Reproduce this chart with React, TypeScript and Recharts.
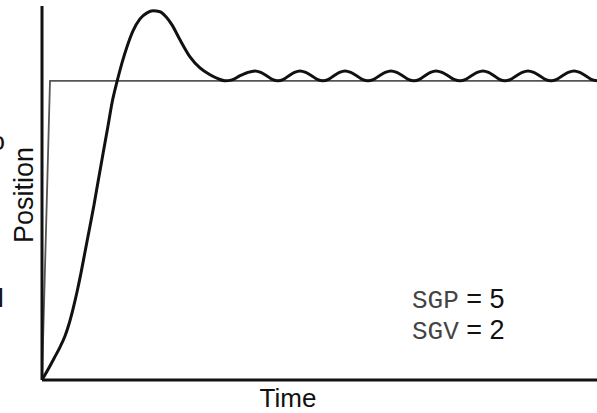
import React from "react";
import { LineChart, Line, XAxis, YAxis, Customized } from "recharts";

// Time axis in arbitrary units, position normalised so the setpoint = 1
const stepTime = [0, 1.6, 111];
const stepValue = [0, 1, 1];

const responseTime = [
  0, 1.2, 2.4, 3.6, 4.6, 5.4, 6.2, 7.0, 7.8, 8.6, 9.6, 10.4, 11.2, 12.2, 13.2, 14.0,
  15.0, 16.0, 17.0, 18.2, 19.6, 21.0, 22.2, 23.6, 24.8, 26.0, 27.6, 29.6, 31.6,
  33.6, 35.2, 36.6, 38.0, 39.6, 41.0,
  42.6, 43.75, 44.9, 46.05, 47.2, 48.3, 49.4, 50.5,
  51.6, 52.75, 53.9, 55.05, 56.2, 57.3, 58.4, 59.5,
  60.6, 61.75, 62.9, 64.05, 65.2, 66.35, 67.5, 68.65,
  69.8, 70.95, 72.1, 73.25, 74.4, 75.5, 76.6, 77.7,
  78.8, 80.0, 81.2, 82.4, 83.6, 84.75, 85.9, 87.05,
  88.2, 89.3, 90.4, 91.5, 92.6, 93.75, 94.9, 96.05,
  97.2, 98.35, 99.5, 100.65, 101.8, 102.95, 104.1, 105.25,
  106.4, 107.55, 108.7, 109.85, 111.0,
];
const responseValue = [
  0, 0.035, 0.072, 0.11, 0.147, 0.187, 0.237, 0.294, 0.358, 0.428, 0.515, 0.585,
  0.662, 0.756, 0.849, 0.926, 0.997, 1.06, 1.114, 1.167, 1.207, 1.227, 1.234,
  1.231, 1.214, 1.187, 1.137, 1.08, 1.043, 1.02, 1.007, 1.0, 1.003, 1.017, 1.027,
  1.033, 1.028, 1.017, 1.005, 1.0, 1.005, 1.017, 1.028,
  1.033, 1.028, 1.017, 1.005, 1.0, 1.005, 1.017, 1.028,
  1.033, 1.028, 1.017, 1.005, 1.0, 1.005, 1.017, 1.028,
  1.033, 1.028, 1.017, 1.005, 1.0, 1.005, 1.017, 1.028,
  1.033, 1.028, 1.017, 1.005, 1.0, 1.005, 1.017, 1.028,
  1.033, 1.028, 1.017, 1.005, 1.0, 1.005, 1.017, 1.028,
  1.033, 1.028, 1.017, 1.005, 1.0, 1.005, 1.017, 1.028,
  1.033, 1.028, 1.017, 1.005, 1.0,
];

const xLabel = "Time";
const yLabel = "Position";
const gainNames = ["SGP", "SGV"];
const gainValues = [5, 2];

const stepData = stepTime.map((t, i) => ({ t, v: stepValue[i] }));
const responseData = responseTime.map((t, i) => ({ t, v: responseValue[i] }));

const SANS = "'Liberation Sans', Arial, Helvetica, sans-serif";
const MONO = "'Liberation Mono', 'Courier New', monospace";

const Annotations = () => (
  <g>
    <text x={288} y={407} fontFamily={SANS} fontSize={26} textAnchor="middle" fill="#111">
      {xLabel}
    </text>
    <text
      x={33}
      y={195}
      fontFamily={SANS}
      fontSize={27}
      textAnchor="middle"
      fill="#111"
      transform="rotate(-90, 33, 195)"
    >
      {yLabel}
    </text>
    {gainNames.map((n, i) => (
      <text key={n} x={412} y={308 + i * 31} fontSize={27} fill="#111">
        <tspan style={{ fontFamily: MONO }} fontSize={26} fill="#444">{n}</tspan>
        <tspan style={{ fontFamily: SANS }}>{` = ${gainValues[i]}`}</tspan>
      </text>
    ))}
    <text x={-9.5} y={150} fontFamily={SANS} fontSize={26} fill="#111">o</text>
    <text x={-2} y={307} fontFamily={SANS} fontSize={26} fill="#111">l</text>
  </g>
);

export default function App() {
  return (
    <div style={{ position: "absolute", left: 0, top: 0, width: 597, height: 413, background: "#fff" }}>
      <LineChart width={597} height={413} margin={{ top: 6, right: 0, bottom: 0, left: 0 }}>
        <XAxis
          dataKey="t"
          type="number"
          domain={[0, 111]}
          allowDataOverflow
          height={33}
          tick={false}
          tickLine={false}
          axisLine={{ stroke: "#111", strokeWidth: 3 }}
        />
        <YAxis
          dataKey="v"
          type="number"
          domain={[0, 1.25]}
          allowDataOverflow
          width={42}
          tick={false}
          tickLine={false}
          axisLine={{ stroke: "#111", strokeWidth: 3 }}
        />
        <Line
          data={stepData}
          dataKey="v"
          type="linear"
          stroke="#555"
          strokeWidth={1.8}
          dot={false}
          isAnimationActive={false}
        />
        <Line
          data={responseData}
          dataKey="v"
          type="monotone"
          stroke="#111"
          strokeWidth={3}
          dot={false}
          isAnimationActive={false}
        />
        <Customized component={Annotations} />
      </LineChart>
    </div>
  );
}
